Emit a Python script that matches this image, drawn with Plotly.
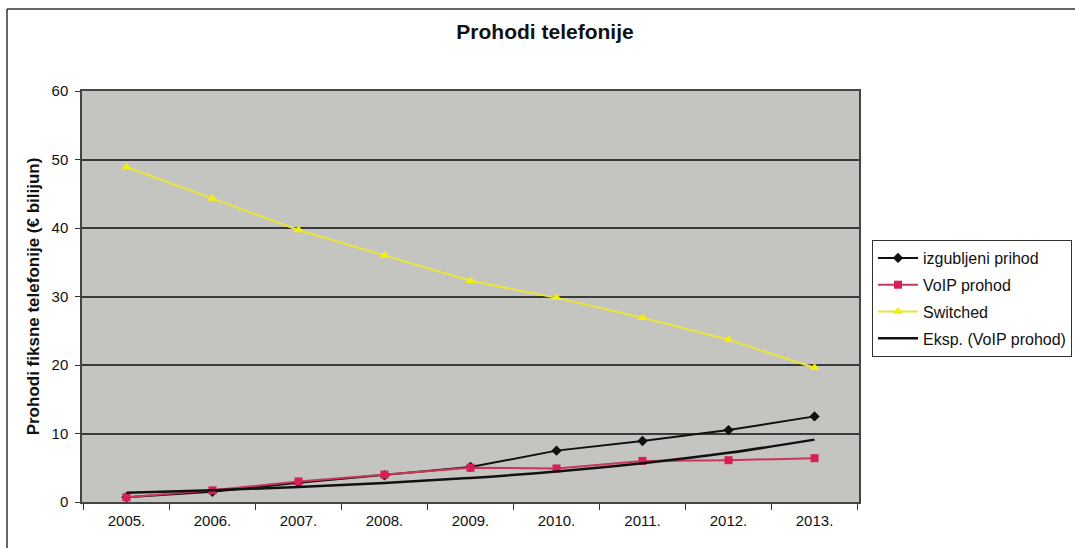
import numpy as np
import plotly.graph_objects as go

years = ["2005.", "2006.", "2007.", "2008.", "2009.", "2010.", "2011.", "2012.", "2013."]
izgubljeni = [0.7, 1.5, 2.8, 3.9, 5.1, 7.5, 8.9, 10.5, 12.5]
voip = [0.7, 1.7, 3.0, 4.0, 5.0, 4.9, 6.0, 6.1, 6.4]
switched = [48.9, 44.3, 39.7, 36.0, 32.3, 29.8, 26.9, 23.7, 19.6]
y_ticks = [0, 10, 20, 30, 40, 50, 60]

# Exponential trendline of VoIP (least squares in log space, like Excel)
xs = np.arange(1, len(voip) + 1)
b, ln_a = np.polyfit(xs, np.log(voip), 1)
trend = np.exp(ln_a + b * xs)

fig = go.Figure()
fig.add_trace(go.Scatter(x=years, y=izgubljeni, name="izgubljeni prihod", mode="lines+markers",
                         line=dict(color="#111111", width=2),
                         marker=dict(symbol="diamond", size=8, color="#111111"),
                         legendgroup="a"))
fig.add_trace(go.Scatter(x=years, y=voip, name="VoIP prohod", mode="lines+markers",
                         line=dict(color="#c8385a", width=2),
                         marker=dict(symbol="square", size=8, color="#d81f55"),
                         legendgroup="b"))
fig.add_trace(go.Scatter(x=years, y=switched, name="Switched", mode="lines+markers",
                         line=dict(color="#e8e63a", width=2),
                         marker=dict(symbol="triangle-up", size=9, color="#f2ee10"),
                         legendgroup="c"))
fig.add_trace(go.Scatter(x=years, y=trend, name="Eksp. (VoIP prohod)", mode="lines",
                         line=dict(color="#111111", width=2.5, shape="spline"),
                         legendgroup="d"))

L, R, T, B = 82, 216, 91, 46
W, H = 1075, 548
pw = W - L - R
ph = H - T - B

fig.update_layout(
    width=W, height=H,
    margin=dict(l=L, r=R, t=T, b=B, autoexpand=False),
    paper_bgcolor="white",
    plot_bgcolor="#c4c4c1",
    font=dict(family="Liberation Sans, Arial", color="#111111", size=15),
    title=dict(text="<b>Prohodi telefonije</b>", x=0.507, xanchor="center",
               y=1 - 32 / H, yanchor="middle", font=dict(size=21)),
    showlegend=True,
    legend=dict(xref="container", yref="container", x=872 / W, y=1 - 240 / H,
                xanchor="left", yanchor="top",
                bgcolor="white", bordercolor="#333333", borderwidth=1,
                font=dict(size=16), traceorder="grouped", tracegroupgap=3,
                itemwidth=40),
    xaxis=dict(type="category", tickson="boundaries", ticks="outside", ticklen=6,
               tickcolor="#333333", showline=True, linecolor="#444444", linewidth=1.5,
               mirror=True, showgrid=False, tickfont=dict(size=15), ticklabelstandoff=4),
    yaxis=dict(range=[0, 60], tickvals=y_ticks, ticks="outside", ticklen=5,
               tickcolor="#333333", showline=True, linecolor="#444444", linewidth=1.5,
               mirror=True, showgrid=True, gridcolor="#3a3a3a", gridwidth=1.5,
               zeroline=False, tickfont=dict(size=15), ticklabelstandoff=4,
               title=dict(text="<b>Prohodi fiksne telefonije (€ bilijun)</b>",
                          font=dict(size=17), standoff=8)),
)

# outer frame (left and top edges visible)
fx0 = (7 - L) / pw
fy1 = 1 + (T - 9) / ph
fxr = (W - L) / pw
fig.add_shape(type="line", xref="paper", yref="paper", x0=fx0, x1=fx0, y0=fy1, y1=-B / ph,
              line=dict(color="#333333", width=1.5))
fig.add_shape(type="line", xref="paper", yref="paper", x0=fx0, x1=fxr, y0=fy1, y1=fy1,
              line=dict(color="#333333", width=1.5))

fig.write_html("out.html", config={"displayModeBar": False},
               post_script="document.body.style.margin='0';document.body.style.overflow='hidden';")
